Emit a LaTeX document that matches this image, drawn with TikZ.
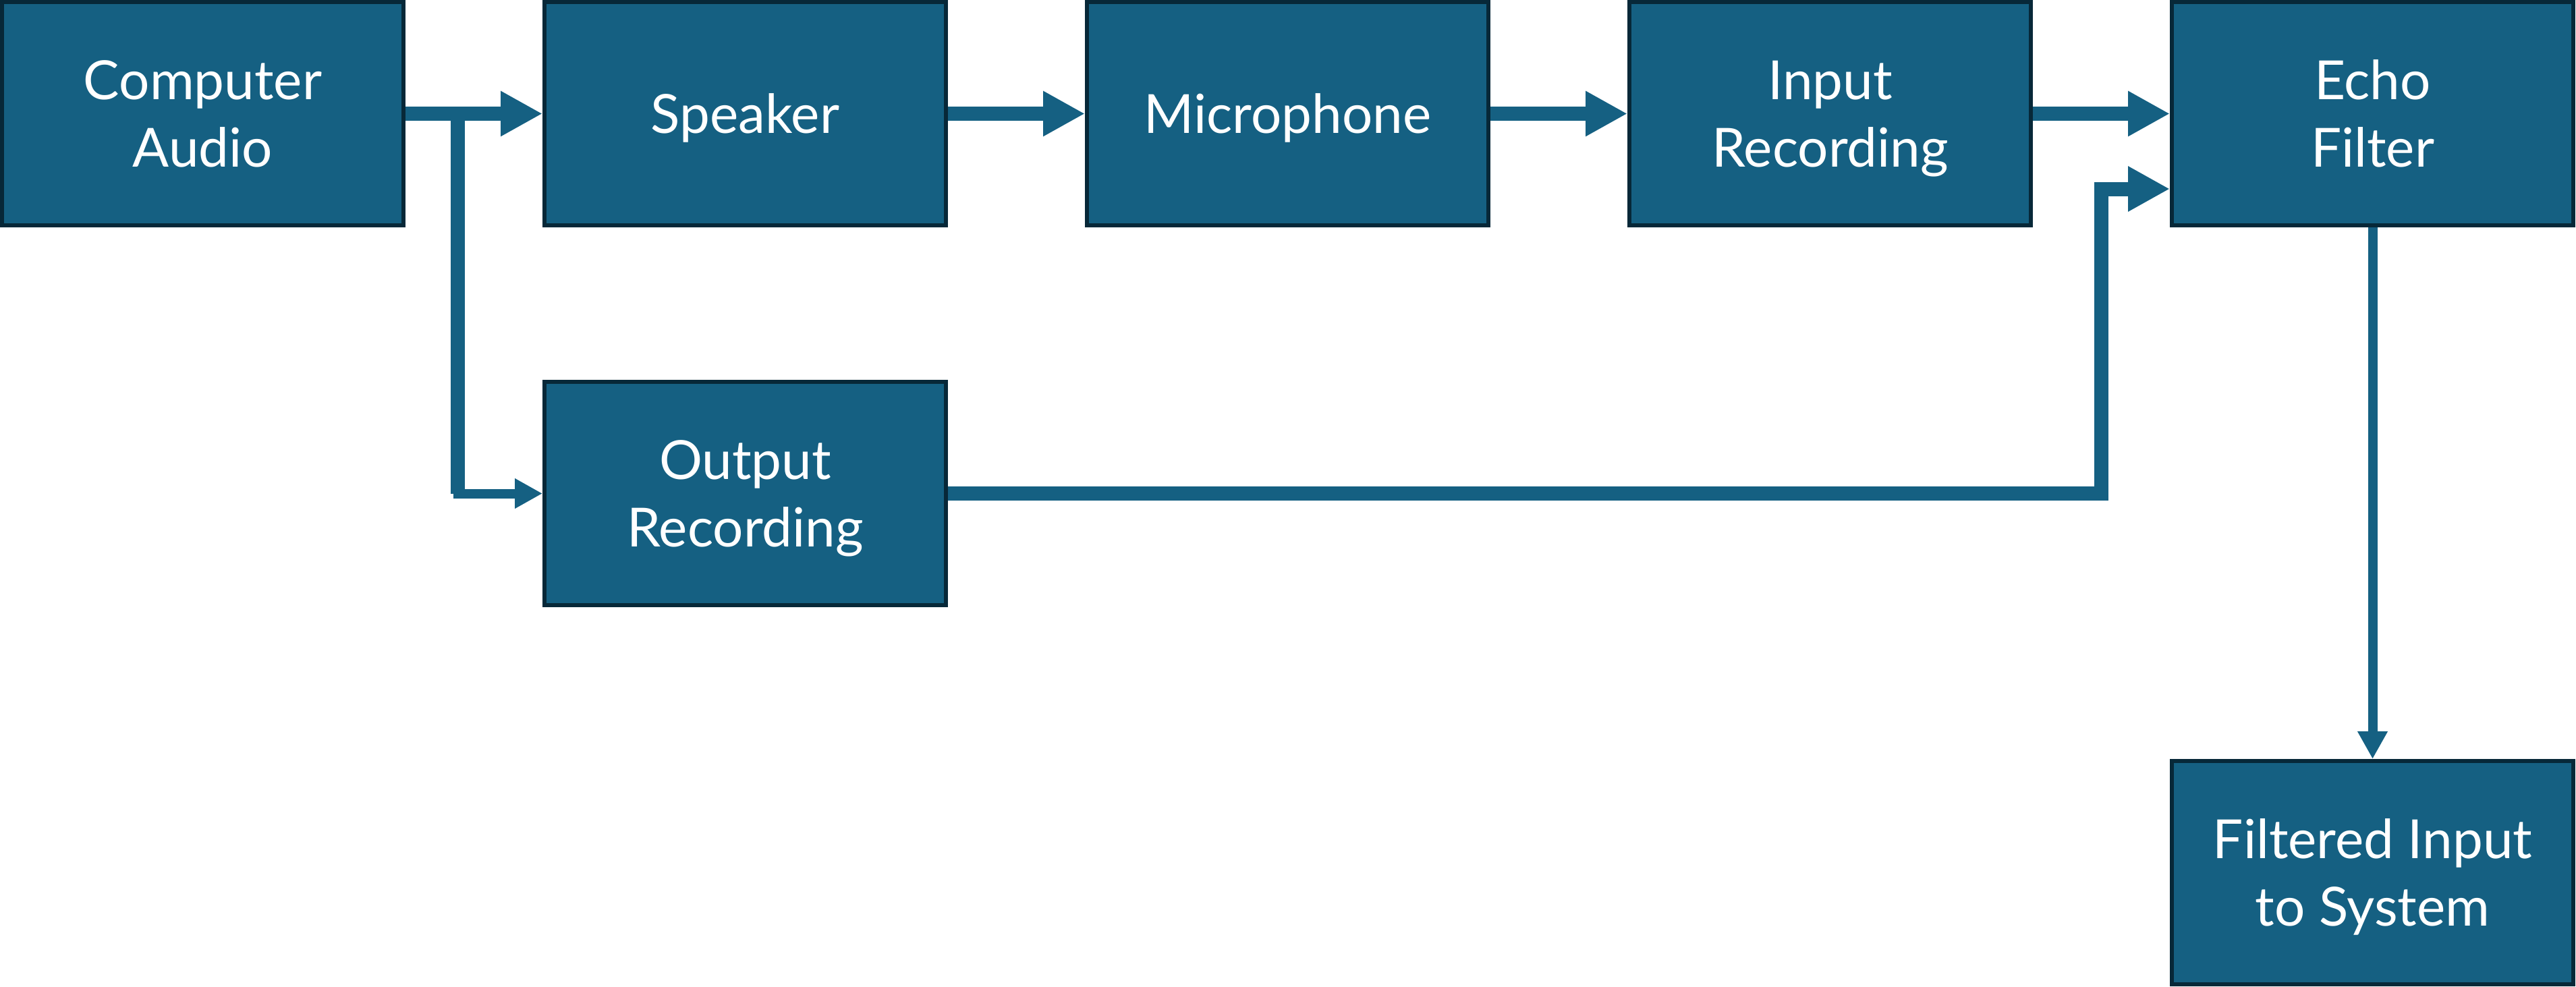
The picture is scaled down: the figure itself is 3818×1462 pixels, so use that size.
\documentclass[tikz,border=0pt]{standalone}
\usepackage{fontspec}
\setmainfont{Lato}
\usetikzlibrary{arrows.meta,calc}
\definecolor{boxfill}{HTML}{156082}
\definecolor{boxline}{HTML}{072838}
\newcommand\nodesc[1]{\raisebox{0pt}[\height][0pt]{#1}}
\begin{document}
\begin{tikzpicture}[x=1pt,y=-1pt,
  box/.style={draw=boxline, fill=boxfill, line width=6pt, outer sep=3pt,
    minimum width=595pt, minimum height=331pt, inner sep=0pt,
    text=white, align=center, font=\fontsize{80}{100}\selectfont},
  bigarrow/.style={draw=boxfill, line width=21pt, -{Triangle[length=62pt,width=63pt]}},
  bigline/.style={draw=boxfill, line width=21pt},
  smallarrow/.style={draw=boxfill, line width=14pt, -{Triangle[length=41pt,width=42pt]}}]
\useasboundingbox (0,0) rectangle (3818,1462);
\node[box] (ca)  at (300.5,168.5)  {Computer\\Audio};
\node[box] (spk) at (1104.5,168.5) {\nodesc{Speaker}};
\node[box] (mic) at (1908.5,168.5) {\nodesc{Microphone}};
\node[box] (inr) at (2712.5,168.5) {Input\\\nodesc{Recording}};
\node[box] (ech) at (3516.5,168.5) {Echo\\Filter};
\node[box] (outr) at (1104.5,731.5) {Output\\\nodesc{Recording}};
\node[box] (filt) at (3516.5,1293.5) {Filtered Input\\\nodesc{to System}};
\coordinate (j1) at (678.5,168.5);
\coordinate (j2) at (678.5,731.5);
\coordinate (j3) at (672,731.5);
\coordinate (c3) at (3114.5,280);
\path (ech.north west) ++(0,280) coordinate (ein);
\draw[bigarrow] (ca.east) -- (spk.west);
\draw[bigarrow] (spk.east) -- (mic.west);
\draw[bigarrow] (mic.east) -- (inr.west);
\draw[bigarrow] (inr.east) -- (ech.west);
\draw[bigline] (j1) -- (j2);
\draw[smallarrow] (j3) -- (outr.west);
\draw[bigarrow] (outr.east) -| (c3) -- (ein);
\draw[smallarrow] (ech.south) -- (filt.north);
\end{tikzpicture}
\end{document}
